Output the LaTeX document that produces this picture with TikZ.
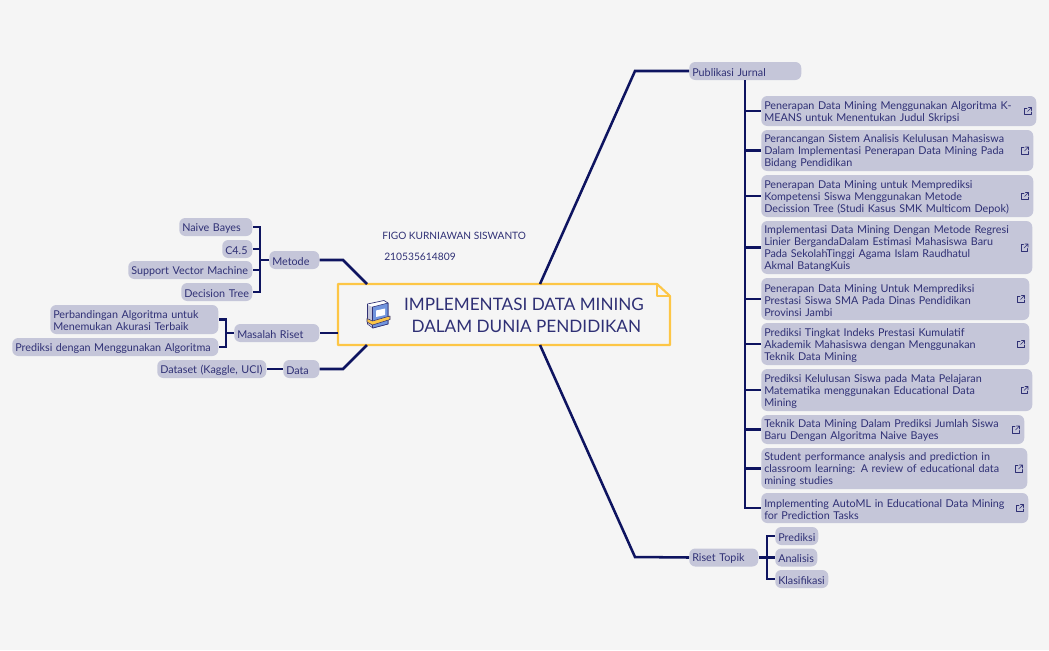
\documentclass[tikz,border=0pt]{standalone}
\usepackage{fontspec}
\setmainfont{Lato}
\usetikzlibrary{calc}
\definecolor{pagebg}{HTML}{F5F5F5}
\definecolor{boxfill}{HTML}{C5C6D9}
\definecolor{inkblue}{HTML}{2F3075}
\definecolor{linknavy}{HTML}{0E1460}
\definecolor{rootgold}{HTML}{FDC646}
\definecolor{bookblue}{HTML}{7295DE}
\tikzset{
  topic/.style 2 args={anchor=west,fill=boxfill,rounded corners=4.5pt,text=inkblue,font=\fontsize{8.08}{9}\selectfont,
    align=left,inner xsep=2.25pt,inner ysep=0pt,text width=(#1-6)*0.75pt,minimum height=#2*0.75pt,
    execute at begin node={\rule{0pt}{7.6pt}}},
  limb/.style={draw=linknavy,line width=1.9pt,line join=miter},
  twig/.style={draw=linknavy,line width=2.2pt},
  linkicon/.pic={
    \draw[inkblue,line width=0.5pt,line cap=round,line join=round] (-1,-3) -- (-3.5,-3) -- (-3.5,3.5) -- (3,3.5) -- (3,1);
    \draw[inkblue,line width=0.5pt,line cap=round,line join=round] (-0.5,0.5) -- (3.5,-3.5) (0.5,-3.5) -- (3.5,-3.5) -- (3.5,-0.5);
  }
}
\begin{document}
\begin{tikzpicture}[x=0.75pt,y=-0.75pt]
\useasboundingbox[fill=pagebg] (0,0) rectangle (1049,650);

% central topic
\coordinate (rootNW) at (338,284);
\coordinate (rootFold) at (657,284);
\coordinate (rootFoldB) at (670,296);
\coordinate (rootSE) at (670,345);
\coordinate (rootSW) at (338,345);
\coordinate (rootUp) at (540,284);
\coordinate (rootDown) at (540,345);
\coordinate (rootUpL) at (367,284);
\coordinate (rootMidL) at (338,333);
\coordinate (rootDownL) at (367,345);

% branches behind the boxes
\coordinate (kneePub) at (635,71);
\coordinate (kneeRiset) at (635,557);
\coordinate (kneeMetode) at (343,260);
\coordinate (kneeData) at (343,369);

\draw[rootgold,line width=1.6pt,line join=round] (rootNW) -- (rootFold) -- (rootFoldB) -- (rootSE) -- (rootSW) -- cycle;
\draw[rootgold,line width=1.6pt,line join=round] (rootFold) -- (657,296) -- (rootFoldB);
\node[text=inkblue,font=\fontsize{12.85}{16.5}\selectfont,align=center] (rootText) at (524,315.5) {IMPLEMENTASI DATA MINING\\\hspace*{3.5pt}DALAM DUNIA PENDIDIKAN};

% book icon
\fill[white,draw=inkblue,line width=0.5pt,line join=round] (367.5,304) -- (384,300.5) -- (388,303) -- (388,324) -- (373,328) -- (367.5,324) -- cycle;
\fill[boxfill] (368,305) -- (372.5,307) -- (372.5,327) -- (368,324) -- cycle;
\fill[bookblue,draw=inkblue,line width=0.4pt,line join=round] (372.5,307) -- (388,303) -- (388,324) -- (372.5,328) -- cycle;
\fill[white] (376,310.5) -- (385,308.5) -- (385,315) -- (376,317) -- cycle;
\fill[rootgold,draw=inkblue,line width=0.4pt,line join=round] (367,318.5) -- (372.5,321) -- (390,316) -- (390,319.5) -- (372.5,325) -- (367,322) -- cycle;

\node[text=inkblue,font=\fontsize{7.6}{9}\selectfont,anchor=west,inner sep=0pt] (authorName) at (382,235.5) {FIGO KURNIAWAN SISWANTO};
\node[text=inkblue,font=\fontsize{7.7}{9}\selectfont,anchor=west,inner sep=0pt] (authorId) at (384,256.5) {210535614809};

% left side
\node[topic={50}{18}] (metode) at (269,260) {Metode};
\node[topic={73}{18}] (naive) at (179,227) {Naive Bayes};
\node[topic={30}{18}] (cfour) at (222,249) {C4.5};
\node[topic={124}{18}] (svm) at (128,270) {Support Vector Machine};
\node[topic={71}{18}] (dtree) at (181,292) {\mbox{Decision Tree}};
\node[topic={85}{18}] (masalah) at (234,333) {Masalah Riset};
\node[topic={168}{29}] (banding) at (50,319.5) {Perbandingan Algoritma untuk\\Menemukan Akurasi Terbaik};
\node[topic={206}{18}] (prediksiAlgo) at (12,347) {Prediksi dengan Menggunakan Algoritma};
\node[topic={36}{18}] (data) at (283,369) {Data};
\node[topic={109}{18}] (dataset) at (157,369) {Dataset (Kaggle, UCI)};

% right side
\node[topic={112}{18}] (publikasi) at (689,71) {Publikasi Jurnal};
\node[topic={275}{30}] (jurnalA) at (761,111) {Penerapan Data Mining Menggunakan Algoritma K-\\MEANS untuk Menentukan Judul Skripsi};
\node[topic={272}{41}] (jurnalB) at (761,150.5) {Perancangan Sistem Analisis Kelulusan Mahasiswa\\Dalam Implementasi Penerapan Data Mining Pada\\Bidang Pendidikan};
\node[topic={272}{42}] (jurnalC) at (761,196) {Penerapan Data Mining untuk Memprediksi\\Kompetensi Siswa Menggunakan Metode\\Decission Tree (Studi Kasus SMK Multicom Depok)};
\node[topic={271}{53}] (jurnalD) at (761,247.5) {Implementasi Data Mining Dengan Metode Regresi\\Linier BergandaDalam Estimasi Mahasiswa Baru\\Pada SekolahTinggi Agama Islam Raudhatul\\Akmal BatangKuis};
\node[topic={268}{42}] (jurnalE) at (761,299) {Penerapan Data Mining Untuk Memprediksi\\Prestasi Siswa SMA Pada Dinas Pendidikan\\Provinsi Jambi};
\node[topic={268}{42}] (jurnalF) at (761,344) {Prediksi Tingkat Indeks Prestasi Kumulatif\\Akademik Mahasiswa dengan Menggunakan\\Teknik Data Mining};
\node[topic={271}{42}] (jurnalG) at (761,390) {Prediksi Kelulusan Siswa pada Mata Pelajaran\\Matematika menggunakan Educational Data\\Mining};
\node[topic={263}{29}] (jurnalH) at (761,429.5) {Teknik Data Mining Dalam Prediksi Jumlah Siswa\\Baru Dengan Algoritma Naive Bayes};
\node[topic={266}{41}] (jurnalI) at (761,468.5) {Student performance analysis and prediction in\\classroom learning: A review of educational data\\mining studies};
\node[topic={267}{30}] (jurnalJ) at (761,508) {Implementing AutoML in Educational Data Mining\\for Prediction Tasks};
\node[topic={69}{18}] (riset) at (689,557.5) {Riset Topik};
\node[topic={43}{18}] (prediksi) at (775,536) {Prediksi};
\node[topic={42}{18}] (analisis) at (775,557.5) {Analisis};
\node[topic={53}{18}] (klasifikasi) at (775,579) {Klasifikasi};

\pic at (1028,111) {linkicon};
\pic at (1025,150.5) {linkicon};
\pic at (1025,196) {linkicon};
\pic at (1024.5,247.5) {linkicon};
\pic at (1021,299) {linkicon};
\pic at (1021,344) {linkicon};
\pic at (1024.5,390) {linkicon};
\pic at (1016,429.5) {linkicon};
\pic at (1019,468.5) {linkicon};
\pic at (1020,508) {linkicon};

% connectors
\draw[limb] (rootUp) -- (kneePub) -- (publikasi.west);
\draw[limb] (rootDown) -- (kneeRiset) -- (riset.west);
\draw[limb] (rootUpL) -- (kneeMetode) -- (metode.east);
\draw[limb] (rootMidL) -- (masalah.east);
\draw[limb] (rootDownL) -- (kneeData) -- (data.east);

\coordinate (trunkPub) at (745,80);
\coordinate (trunkMetode) at (260,260);
\coordinate (trunkMasalah) at (226,333);
\coordinate (trunkRiset) at (767,557.5);

\draw[twig] (trunkPub) |- (jurnalA.west);
\draw[twig] (trunkPub) |- (jurnalB.west);
\draw[twig] (trunkPub) |- (jurnalC.west);
\draw[twig] (trunkPub) |- (jurnalD.west);
\draw[twig] (trunkPub) |- (jurnalE.west);
\draw[twig] (trunkPub) |- (jurnalF.west);
\draw[twig] (trunkPub) |- (jurnalG.west);
\draw[twig] (trunkPub) |- (jurnalH.west);
\draw[twig] (trunkPub) |- (jurnalI.west);
\draw[twig] (trunkPub) |- (jurnalJ.west);

\draw[twig] (metode.west) -- (trunkMetode);
\draw[twig] (trunkMetode) |- (naive.east);
\draw[twig] (trunkMetode) |- (cfour.east);
\draw[twig] (trunkMetode) |- (svm.east);
\draw[twig] (trunkMetode) |- (dtree.east);

\draw[twig] (masalah.west) -- (trunkMasalah);
\draw[twig] (trunkMasalah) |- (banding.east);
\draw[twig] (trunkMasalah) |- (prediksiAlgo.east);

\draw[twig] (data.west) -- (dataset.east);

\draw[twig] (riset.east) -- (analisis.west);
\draw[twig] (trunkRiset) |- (prediksi.west);
\draw[twig] (trunkRiset) |- (klasifikasi.west);

\end{tikzpicture}
\end{document}
